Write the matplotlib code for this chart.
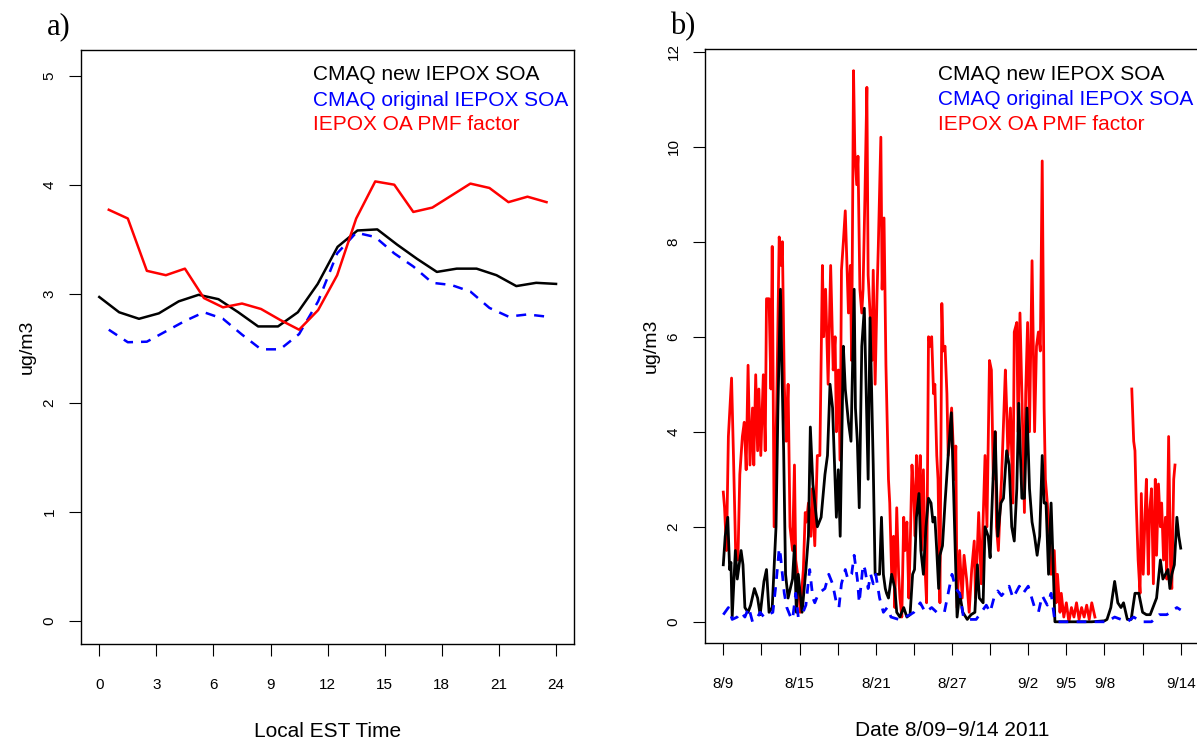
import numpy as np
import matplotlib
matplotlib.use("Agg")
import matplotlib.pyplot as plt

plt.rcParams['font.family'] = ['Liberation Sans', 'DejaVu Sans']

# ---------------- Panel a: diurnal profiles ----------------
hours_half = [0.5, 1.5, 2.5, 3.5, 4.5, 5.5, 6.5, 7.5, 8.5, 9.5, 10.5, 11.5,
              12.5, 13.5, 14.5, 15.5, 16.5, 17.5, 18.5, 19.5, 20.5, 21.5, 22.5, 23.5]
new_soa_diurnal = [2.97, 2.83, 2.77, 2.82, 2.93, 2.99, 2.95, 2.83, 2.70, 2.70, 2.83, 3.09,
                   3.43, 3.58, 3.59, 3.45, 3.32, 3.20, 3.23, 3.23, 3.17, 3.07, 3.10, 3.09]
orig_soa_diurnal = [2.67, 2.555, 2.56, 2.655, 2.75, 2.83, 2.77, 2.625, 2.49, 2.49, 2.63, 2.93,
                    3.37, 3.56, 3.52, 3.37, 3.25, 3.10, 3.08, 3.02, 2.87, 2.79, 2.81, 2.79]
pmf_diurnal = [3.77, 3.69, 3.21, 3.17, 3.23, 2.96, 2.875, 2.91, 2.86, 2.76, 2.67, 2.85,
               3.17, 3.69, 4.03, 4.00, 3.75, 3.79, 3.90, 4.01, 3.97, 3.84, 3.89, 3.84]
hours_ticks = [0, 3, 6, 9, 12, 15, 18, 21, 24]

# ---------------- Panel b: time series (days since 8/9 00:00) ----------------
new_day = [0.0, 0.15, 0.35, 0.5, 0.6, 0.7, 0.95, 1.1, 1.4, 1.55, 1.7, 1.95, 2.15, 2.45, 2.7, 2.9,
           3.2, 3.4, 3.6, 3.85, 4.15, 4.3, 4.5, 4.6, 4.75, 4.9, 5.1, 5.45, 5.6, 5.75, 5.9, 6.2,
           6.5, 6.7, 6.85, 7.05, 7.4, 7.7, 8.0, 8.2, 8.4, 8.6, 8.9, 9.05, 9.2, 9.45, 9.6, 9.85,
           10.05, 10.3, 10.4, 10.55, 10.7, 10.9, 11.1, 11.3, 11.4, 11.55, 11.7, 11.8, 11.95,
           12.1, 12.3, 12.45, 12.6, 12.75, 12.85, 13.0, 13.25, 13.5, 13.65, 13.9, 14.2, 14.45,
           14.7, 14.9, 15.05, 15.2, 15.4, 15.55, 15.75, 15.95, 16.15, 16.35, 16.5, 16.65, 16.8,
           16.95, 17.05, 17.25, 17.45, 17.7, 17.95, 18.1, 18.4, 18.6, 18.85, 19.2, 19.5, 19.8,
           20.0, 20.15, 20.45, 20.6, 20.85, 21.0, 21.2, 21.4, 21.6, 21.85, 22.05, 22.3, 22.5,
           22.7, 22.9, 23.1, 23.25, 23.5, 23.7, 23.9, 24.1, 24.3, 24.5, 24.7, 24.9, 25.1, 25.25,
           25.4, 25.6, 25.8, 25.95, 26.1, 27.0, 28.0, 29.0, 30.0, 30.2, 30.5, 30.8, 31.05, 31.3,
           31.5, 31.8, 32.1, 32.4, 32.7, 33.0, 33.3, 33.6, 34.1, 34.4, 34.6, 35.0, 35.15, 35.3,
           35.5, 35.7, 35.85, 36.0]
new_val = [1.2, 1.8, 2.2, 1.1, 1.25, 0.1, 1.5, 0.9, 1.5, 1.2, 0.3, 0.2, 0.35, 0.7, 0.5, 0.15,
           0.85, 1.1, 0.2, 0.3, 2.0, 4.5, 7.0, 5.5, 3.6, 1.0, 0.5, 0.9, 1.6, 0.2, 1.0, 0.2,
           1.1, 1.8, 4.1, 2.9, 2.0, 2.2, 3.1, 3.5, 5.0, 4.5, 2.2, 3.2, 1.8, 5.8, 4.9, 4.2,
           3.8, 7.0, 4.5, 3.8, 2.4, 5.8, 6.6, 4.2, 3.0, 6.4, 4.5, 3.3, 1.0,
           1.0, 1.0, 2.2, 1.0, 0.7, 0.6, 0.5, 1.0, 0.7, 0.2, 0.1, 0.3, 0.1,
           0.15, 1.0, 1.1, 2.2, 2.7, 1.5, 1.0, 2.0, 2.6, 2.5, 2.1, 2.2, 1.5,
           0.7, 1.4, 1.6, 2.5, 3.5, 4.4, 3.0, 0.1, 0.6, 0.2, 0.05, 0.15, 0.2,
           1.2, 0.5, 0.4, 2.0, 1.8, 1.35, 2.8, 4.0, 1.8, 2.5, 2.6, 3.6, 3.3,
           2.0, 1.7, 2.8, 4.6, 2.6, 2.6, 4.5, 2.8, 2.1, 1.8, 1.4, 1.8, 3.5, 2.5,
           2.5, 1.0, 2.5, 1.3, 0.0, 0.0, 0.0, 0.0, 0.02, 0.05, 0.3, 0.85, 0.4, 0.3,
           0.4, 0.05, 0.05, 0.6, 0.6, 0.2, 0.15, 0.15, 0.5, 1.3, 0.9, 1.1, 0.7, 1.0,
           1.2, 2.2, 1.8, 1.55]

orig_day = [0.0, 0.4, 0.7, 1.1, 1.4, 1.7, 2.0, 2.3, 2.6, 2.9, 3.2, 3.5, 3.9, 4.15, 4.4, 4.5,
            4.8, 5.0, 5.3, 5.45, 5.7, 5.9, 6.2, 6.5, 6.8, 7.05, 7.2, 7.5, 8.0, 8.3, 8.6, 8.9,
            9.1, 9.3, 9.6, 9.8, 10.1, 10.3, 10.55, 10.7, 11.0, 11.15, 11.4, 11.6, 11.8, 12.0,
            12.3, 12.6, 12.9, 13.2, 13.8, 14.3, 14.7, 15.0, 15.5, 15.9, 16.4, 16.8, 17.4, 17.7,
            18.0, 18.3, 18.6, 18.9, 19.4, 19.9, 20.3, 20.7, 21.0, 21.3, 21.6, 21.9, 22.5, 22.8,
            23.3, 23.6, 24.0, 24.5, 24.8, 25.1, 25.5, 25.8, 26.1, 27.0, 28.0, 29.0, 30.2, 30.8,
            31.3, 31.8, 32.3, 32.9, 33.7, 34.3, 34.9, 35.7, 36.0]
orig_val = [0.15, 0.3, 0.05, 0.1, 0.2, 0.1, 0.3, 0.0, 0.05, 0.2, 0.1, 0.15, 0.2, 0.8, 1.55, 1.4,
            0.6, 0.3, 0.1, 0.05, 0.6, 0.1, 0.15, 0.35, 1.1, 0.5, 0.4, 0.6, 0.7, 1.0, 0.8, 0.4,
            0.3, 0.8, 1.1, 0.9, 1.0, 1.4, 0.9, 0.4, 1.2, 1.1, 0.7, 1.0, 0.8, 1.0,
            0.5, 0.2, 0.3, 0.1, 0.05, 0.1, 0.15, 0.2, 0.4, 0.2, 0.3, 0.2, 0.2, 0.6,
            1.0, 0.7, 0.6, 0.1, 0.05, 0.05, 0.2, 0.35, 0.2, 0.5, 0.65, 0.55, 0.75, 0.5,
            0.75, 0.6, 0.75, 0.3, 0.2, 0.55, 0.35, 0.6, 0.0, 0.0, 0.0, 0.0, 0.0, 0.1,
            0.05, 0.0, 0.1, 0.0, 0.0, 0.15, 0.15, 0.3, 0.25]

pmf_day = [0.0, 0.1, 0.25, 0.4, 0.65, 0.8, 0.97, 1.15, 1.3, 1.5, 1.65, 1.8, 1.95, 2.1, 2.3, 2.4,
           2.55, 2.7, 2.8, 2.95, 3.15, 3.3, 3.4, 3.6, 3.75, 3.85, 4.0, 4.2, 4.4, 4.55, 4.65, 4.8,
           4.95, 5.1, 5.25, 5.45, 5.6, 5.7, 5.9, 6.05, 6.3, 6.45, 6.55, 6.7, 6.9, 7.0, 7.2, 7.4,
           7.6, 7.8, 7.9, 8.05, 8.25, 8.45, 8.65, 8.8, 8.9, 9.05, 9.2, 9.3, 9.45, 9.6, 9.7, 9.85,
           10.0, 10.1, 10.25, 10.35, 10.5, 10.6, 10.75, 10.9, 11.0, 11.15, 11.3, 11.4, 11.55,
           11.7, 11.8, 11.95, 12.1, 12.2, 12.4, 12.5, 12.65, 12.8, 13.0, 13.1, 13.25, 13.4, 13.5,
           13.65, 13.8, 13.9, 14.05, 14.2, 14.3, 14.45, 14.6, 14.7, 14.85, 15.0, 15.1, 15.2,
           15.35, 15.5, 15.6, 15.75, 15.9, 16.0, 16.15, 16.3, 16.4, 16.55, 16.65, 16.8, 16.9,
           17.05, 17.2, 17.3, 17.45, 17.6, 17.7, 17.97, 18.2, 18.3, 18.4, 18.6, 18.8, 18.95,
           19.15, 19.35, 19.55, 19.75, 19.85, 20.1, 20.3, 20.6, 20.75, 20.95, 21.1, 21.25, 21.4,
           21.5, 21.65, 21.8, 21.9, 22.2, 22.3, 22.4, 22.6, 22.8, 22.9, 23.1, 23.2, 23.35, 23.5,
           23.7, 23.8, 23.95, 24.1, 24.3, 24.5, 24.65, 24.8, 24.95, 25.1, 25.25, 25.35, 25.5,
           25.7, 25.8, 26.05, 26.2, 26.3, 26.5, 26.6, 26.8, 27.0, 27.2, 27.4, 27.6, 27.8, 28.0,
           28.2, 28.4, 28.6, 28.8, 29.0, 29.25, 30.7,
           32.15, 32.3, 32.4, 32.5, 32.65, 32.8, 32.9, 33.05, 33.2, 33.3, 33.45, 33.55, 33.7,
           33.85, 34.0, 34.1, 34.25, 34.4, 34.5, 34.65, 34.8, 34.9, 35.05, 35.2, 35.3, 35.45,
           35.55]
pmf_val = [2.73, 2.4, 1.5, 3.9, 5.13, 3.5, 1.5, 1.3, 3.1, 3.9, 4.2, 3.2, 5.4, 3.3, 4.5, 3.3,
           5.2, 3.6, 4.9, 3.5, 5.2, 3.6, 6.8, 6.8, 4.9, 7.9, 2.0, 4.5, 8.1, 7.5, 8.0, 5.0,
           3.8, 5.0, 2.0, 1.5, 3.3, 1.3, 0.9, 0.2, 1.1, 2.3, 2.1, 2.5, 1.8, 2.8, 1.6, 3.5,
           3.5, 7.5, 6.0, 7.0, 5.0, 7.5, 5.3, 6.0, 4.0, 5.3, 3.4, 7.4, 8.0, 8.65, 7.8, 6.5,
           7.5, 5.5, 11.6, 9.9, 9.2, 9.8, 7.0, 6.5, 7.0, 9.0, 11.25, 7.3, 6.5,
           5.5, 7.4, 5.0, 6.9, 7.9, 10.2, 7.0, 8.5, 5.4, 3.0, 2.5, 1.0, 1.8, 0.3,
           2.4, 1.0, 0.5, 0.1, 2.2, 1.5, 2.1, 0.5, 1.5, 3.3, 2.6, 1.8, 3.5,
           2.5, 3.5, 1.5, 3.2, 1.0, 0.4, 6.0, 5.8, 6.0, 4.8, 5.0, 3.5, 3.0,
           0.4, 6.7, 5.7, 5.8, 4.8, 3.5, 4.5, 3.0, 3.7, 0.3, 1.5, 0.5, 1.4,
           0.9, 0.2, 1.1, 1.7, 0.5, 2.3, 0.8, 3.5, 2.0, 5.5, 5.3, 3.0, 4.0,
           2.0, 1.5, 2.5, 3.0, 5.3, 4.5, 3.5, 4.5, 2.5, 6.1, 6.3, 4.0, 6.5, 4.8,
           2.3, 4.8, 6.3, 4.0, 7.6, 4.0, 5.8, 6.1, 5.7, 9.7, 4.5, 3.0, 2.5,
           1.8, 1.0, 1.5, 0.4, 1.0, 0.2, 0.6, 0.1, 0.4, 0.0, 0.3, 0.1, 0.4, 0.05,
           0.3, 0.1, 0.35, 0.05, 0.4, 0.1, np.nan,
           4.9, 3.8, 3.6, 2.5, 1.3, 0.6, 2.7, 1.0, 2.3, 3.0, 1.0, 2.3, 2.8,
           0.8, 3.0, 1.4, 2.9, 2.0, 2.5, 1.3, 2.2, 0.9, 3.9, 1.2, 0.7, 3.0,
           3.3]

date_ticks = [0, 3, 6, 9, 12, 15, 18, 21, 24, 27, 30, 33, 36]
date_labels = ['8/9', '', '8/15', '', '8/21', '', '8/27', '', '9/2', '9/5', '9/8', '', '9/14']

labels = ['CMAQ new IEPOX SOA', 'CMAQ original IEPOX SOA', 'IEPOX OA PMF factor']
colors = ['black', '#0000FF', '#FF0000']

W, H = 1197, 742
fig = plt.figure(figsize=(W / 100, H / 100), dpi=100)


def px_axes(l, r, t, b):
    return fig.add_axes([l / W, 1 - b / H, (r - l) / W, (b - t) / H])


def style(ax):
    for s in ax.spines.values():
        s.set_linewidth(1.0)
    ax.tick_params(axis='both', direction='out', length=8.6, width=0.8,
                   labelsize=11, top=False, right=False)
    ax.tick_params(axis='x', pad=16)
    ax.tick_params(axis='y', pad=9)
    for lab in ax.get_yticklabels():
        lab.set_rotation(90)
        lab.set_va('center')


# ---- Panel a
axa = px_axes(81, 574.3, 49.5, 643.7)
axa.plot(np.linspace(0, 24, len(new_soa_diurnal)), new_soa_diurnal, color=colors[0], lw=1.8)
axa.plot(hours_half, orig_soa_diurnal, color=colors[1], lw=1.8, dashes=(4.0, 3.2))
axa.plot(hours_half, pmf_diurnal, color=colors[2], lw=1.8)
axa.set_xlim(-0.96, 24.96)
axa.set_ylim(-0.21, 5.24)
axa.set_xticks(hours_ticks)
axa.set_yticks([0, 1, 2, 3, 4, 5])
style(axa)
axa.set_xlabel('Local EST Time', fontsize=15, labelpad=22)
axa.set_ylabel('ug/m3', fontsize=14, labelpad=5)
for i, (lab, c) in enumerate(zip(labels, colors)):
    axa.text((313.3 - 81) / 493.3, (643.7 - (75 + 25 * i)) / 594.2, lab, color=c,
             fontsize=15, ha='left', va='center', transform=axa.transAxes)
fig.text(47 / W, 1 - 34 / H, 'a)', fontsize=22, family='Liberation Serif',
         ha='left', va='baseline')

# ---- Panel b
axb = px_axes(705, 1199, 49.3, 642.7)
axb.plot(pmf_day, pmf_val, color=colors[2], lw=2.0, zorder=2)
axb.plot(new_day, new_val, color=colors[0], lw=2.0, zorder=3)
axb.plot(orig_day, orig_val, color=colors[1], lw=2.0, dashes=(3.5, 3.0), zorder=4)
axb.set_xlim(-1.44, 37.44)
axb.set_ylim(-0.44, 12.05)
axb.set_xticks(date_ticks)
axb.set_xticklabels(date_labels)
axb.set_yticks([0, 2, 4, 6, 8, 10, 12])
style(axb)
axb.set_xlabel('Date 8/09\u22129/14 2011', fontsize=15, labelpad=22)
axb.set_ylabel('ug/m3', fontsize=14, labelpad=5)
for i, (lab, c) in enumerate(zip(labels, colors)):
    axb.text((938.3 - 705) / 494, (642.7 - (75 + 25 * i)) / 593.4, lab, color=c,
             fontsize=15, ha='left', va='center', transform=axb.transAxes)
fig.text(670 / W, 1 - 34 / H, 'b)', fontsize=22, family='Liberation Serif',
         ha='left', va='baseline')

fig.savefig('out.png', dpi=100)
